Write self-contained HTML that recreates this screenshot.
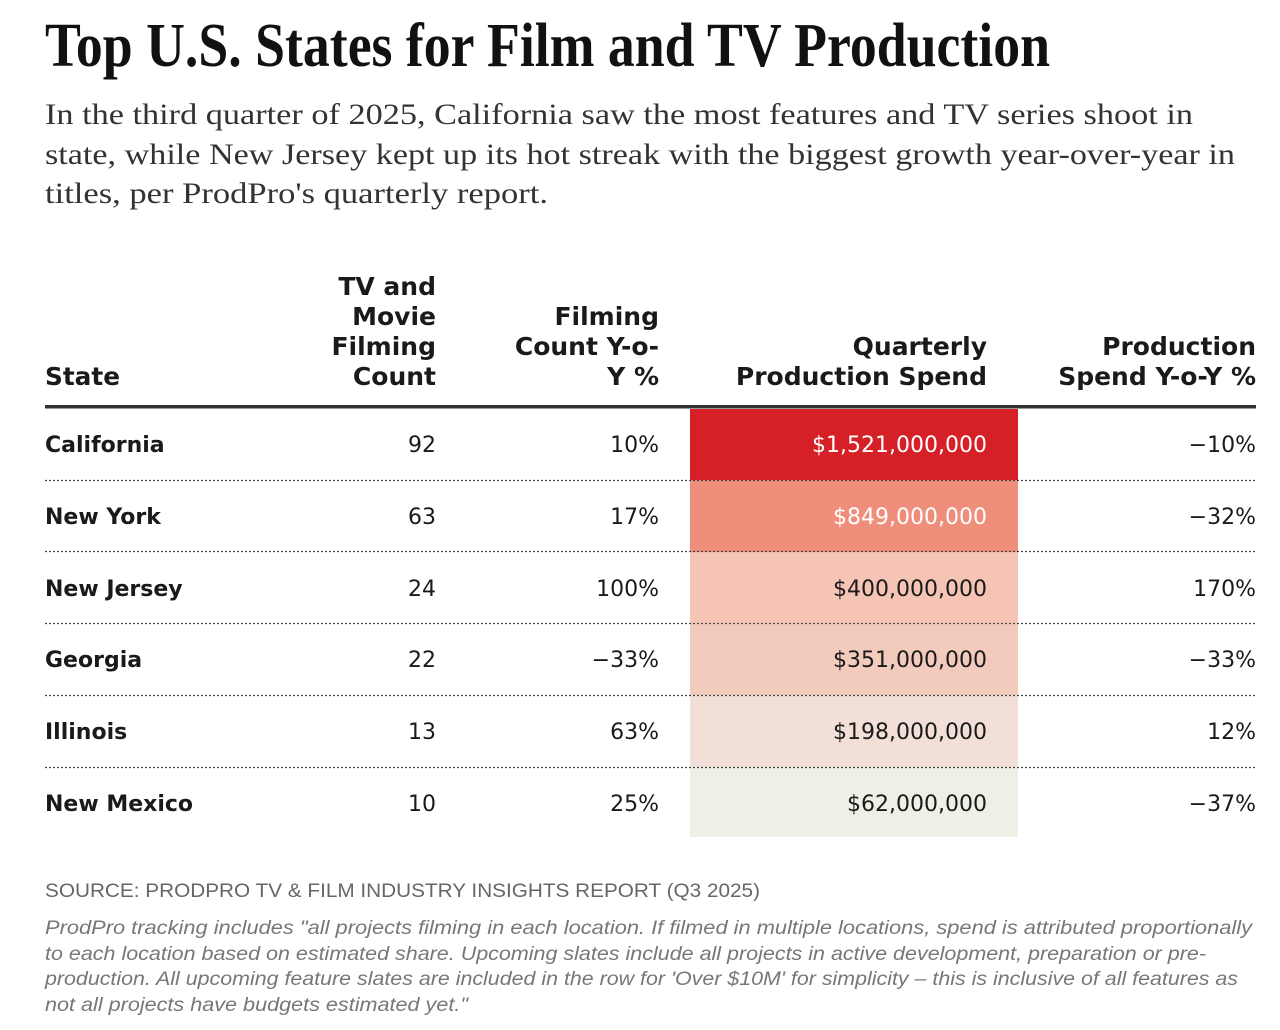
<!DOCTYPE html>
<html><head><meta charset="utf-8"><style>
html,body{margin:0;padding:0;background:#fff;}
svg{display:block}
.t{font-family:"Liberation Serif",serif;}
.s{font-family:"Liberation Sans","DejaVu Sans",sans-serif;}
.d{font-family:"DejaVu Sans","Liberation Sans",sans-serif;}
</style></head><body>
<svg width="1280" height="1030" viewBox="0 0 1280 1030" xmlns="http://www.w3.org/2000/svg">
<rect width="1280" height="1030" fill="#fff"/>
<text class="t" x="45" y="66" font-size="62" font-weight="bold" fill="#111" textLength="1005" lengthAdjust="spacingAndGlyphs">Top U.S. States for Film and TV Production</text>
<g class="t" font-size="30" fill="#333">
<text x="45" y="124" textLength="1148" lengthAdjust="spacingAndGlyphs">In the third quarter of 2025, California saw the most features and TV series shoot in</text>
<text x="45" y="164" textLength="1190" lengthAdjust="spacingAndGlyphs">state, while New Jersey kept up its hot streak with the biggest growth year-over-year in</text>
<text x="45" y="203" textLength="503" lengthAdjust="spacingAndGlyphs">titles, per ProdPro's quarterly report.</text>
</g>
<g class="d" font-size="25" font-weight="bold" fill="#1a1a1a">
<text x="45" y="385" textLength="75" lengthAdjust="spacingAndGlyphs">State</text>
<g text-anchor="end">
<text x="436" y="295">TV and</text><text x="436" y="325">Movie</text><text x="436" y="355">Filming</text><text x="436" y="385">Count</text>
<text x="659" y="325">Filming</text><text x="659" y="355">Count Y-o-</text><text x="659" y="385">Y %</text>
<text x="987" y="355">Quarterly</text><text x="987" y="385">Production Spend</text>
<text x="1256" y="355">Production</text><text x="1256" y="385">Spend Y-o-Y %</text>
</g></g>
<rect x="690" y="409" width="328" height="71" fill="#d62027"/>
<rect x="690" y="480" width="328" height="72" fill="#ef8e7a"/>
<rect x="690" y="552" width="328" height="71" fill="#f5c4b4"/>
<rect x="690" y="623" width="328" height="72" fill="#f3cbbd"/>
<rect x="690" y="695" width="328" height="72" fill="#f2e0d8"/>
<rect x="690" y="767" width="328" height="70" fill="#f0efe6"/>
<rect x="45" y="405" width="1211" height="3.5" fill="#333"/>
<g stroke="#444" stroke-width="1.2" stroke-dasharray="2,2">
<line x1="45" x2="1256" y1="480.5" y2="480.5"/><line x1="45" x2="1256" y1="551.5" y2="551.5"/>
<line x1="45" x2="1256" y1="623.5" y2="623.5"/><line x1="45" x2="1256" y1="695.5" y2="695.5"/>
<line x1="45" x2="1256" y1="767.5" y2="767.5"/>
</g>
<g class="d" font-size="22" fill="#1a1a1a">
<g font-weight="bold">
<text x="45" y="452">California</text><text x="45" y="524">New York</text><text x="45" y="596">New Jersey</text>
<text x="45" y="667">Georgia</text><text x="45" y="739">Illinois</text><text x="45" y="811">New Mexico</text>
</g>
<g text-anchor="end">
<text x="436" y="452">92</text><text x="436" y="524">63</text><text x="436" y="596">24</text><text x="436" y="667">22</text><text x="436" y="739">13</text><text x="436" y="811">10</text>
<text x="659" y="452">10%</text><text x="659" y="524">17%</text><text x="659" y="596">100%</text><text x="659" y="667">−33%</text><text x="659" y="739">63%</text><text x="659" y="811">25%</text>
<text x="987" y="452" fill="#fff">$1,521,000,000</text><text x="987" y="524" fill="#fff">$849,000,000</text><text x="987" y="596">$400,000,000</text><text x="987" y="667">$351,000,000</text><text x="987" y="739">$198,000,000</text><text x="987" y="811">$62,000,000</text>
<text x="1256" y="452">−10%</text><text x="1256" y="524">−32%</text><text x="1256" y="596">170%</text><text x="1256" y="667">−33%</text><text x="1256" y="739">12%</text><text x="1256" y="811">−37%</text>
</g></g>
<text class="s" x="45" y="897" font-size="19" fill="#666" textLength="715" lengthAdjust="spacingAndGlyphs">SOURCE: PRODPRO TV &amp; FILM INDUSTRY INSIGHTS REPORT (Q3 2025)</text>
<g class="s" font-size="19" font-style="italic" fill="#777">
<text x="45" y="934" textLength="1207" lengthAdjust="spacingAndGlyphs">ProdPro tracking includes "all projects filming in each location. If filmed in multiple locations, spend is attributed proportionally</text>
<text x="45" y="960" textLength="1161" lengthAdjust="spacingAndGlyphs">to each location based on estimated share. Upcoming slates include all projects in active development, preparation or pre-</text>
<text x="45" y="985" textLength="1193" lengthAdjust="spacingAndGlyphs">production. All upcoming feature slates are included in the row for 'Over $10M' for simplicity – this is inclusive of all features as</text>
<text x="45" y="1011" textLength="423" lengthAdjust="spacingAndGlyphs">not all projects have budgets estimated yet."</text>
</g>
</svg>
</body></html>
